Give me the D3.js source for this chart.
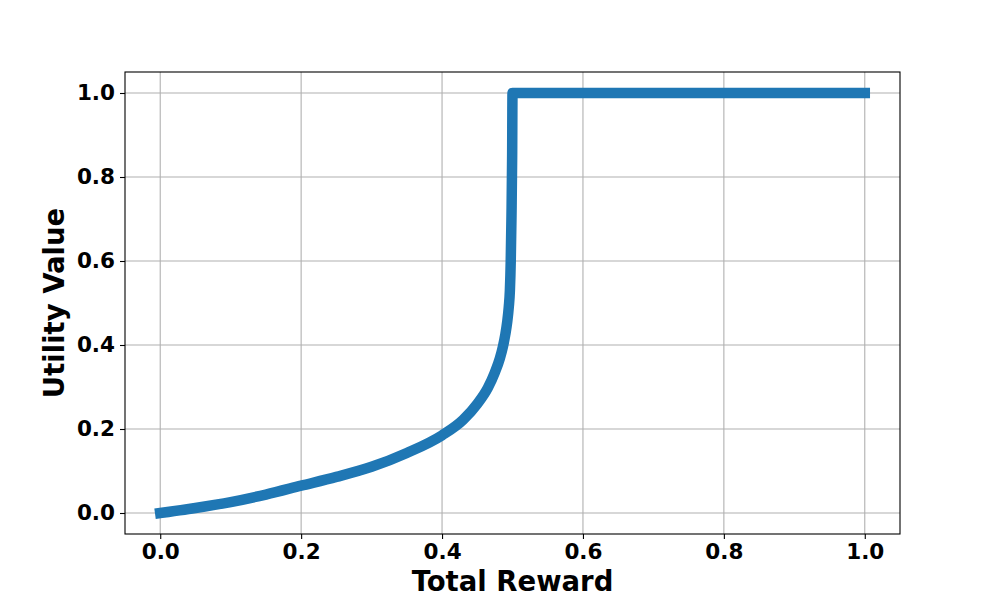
<!DOCTYPE html>
<html>
<head>
<meta charset="utf-8">
<script src="https://cdn.jsdelivr.net/npm/d3@7"></script>
<style>
  body { margin: 0; background: #fff; }
  text { font-family: "DejaVu Sans", sans-serif; font-weight: bold; }
</style>
</head>
<body>
<div id="chart"></div>
<script>
// values
const rewardX = [0, 0.05, 0.1, 0.15, 0.2, 0.25, 0.3, 0.35, 0.4, 0.43, 0.45, 0.465, 0.475, 0.482, 0.4865, 0.4898, 0.4925, 0.4947, 0.4963, 0.4975, 0.4985, 0.4995, 0.5, 1.0];
const utilityY = [0, 0.012, 0.026, 0.044, 0.065, 0.086, 0.11, 0.143, 0.185, 0.222, 0.26, 0.298, 0.335, 0.368, 0.397, 0.425, 0.455, 0.49, 0.53, 0.6, 0.7, 0.85, 1.0, 1.0];
const xTicks = [0, 0.2, 0.4, 0.6, 0.8, 1.0];
const yTicks = [0, 0.2, 0.4, 0.6, 0.8, 1.0];

const dims = { width: 1000, height: 600 };
const margin = { left: 125, right: 100, top: 72, bottom: 66 };
const w = dims.width - margin.left - margin.right;
const h = dims.height - margin.top - margin.bottom;

const svg = d3.select("#chart")
  .append("svg")
  .attr("width", dims.width)
  .attr("height", dims.height);

const graph = svg.append("g")
  .attr("transform", `translate(${margin.left}, ${margin.top})`);

const x = d3.scaleLinear().domain([-0.05, 1.05]).range([0, w]);
const y = d3.scaleLinear().domain([-0.05, 1.05]).range([h, 0]);

// grid
graph.append("g")
  .selectAll("line")
  .data(xTicks)
  .enter()
  .append("line")
  .attr("x1", (d) => x(d)).attr("x2", (d) => x(d))
  .attr("y1", 0).attr("y2", h)
  .attr("stroke", "#b0b0b0")
  .attr("stroke-width", 1.1);

graph.append("g")
  .selectAll("line")
  .data(yTicks)
  .enter()
  .append("line")
  .attr("y1", (d) => y(d)).attr("y2", (d) => y(d))
  .attr("x1", 0).attr("x2", w)
  .attr("stroke", "#b0b0b0")
  .attr("stroke-width", 1.1);

// axes
const xAxis = graph.append("g")
  .attr("transform", `translate(0, ${h})`)
  .call(d3.axisBottom(x).tickValues(xTicks).tickFormat(d3.format(".1f")).tickSize(5).tickPadding(5));
const yAxis = graph.append("g")
  .call(d3.axisLeft(y).tickValues(yTicks).tickFormat(d3.format(".1f")).tickSize(5).tickPadding(5));

[xAxis, yAxis].forEach((a) => {
  a.select(".domain").remove();
  a.selectAll(".tick line").attr("stroke", "#000").attr("stroke-width", 1.1);
  a.selectAll(".tick text")
    .attr("fill", "#000")
    .style("font-size", "21.5px")
    .style("font-family", "'DejaVu Sans', sans-serif")
    .style("font-weight", "bold");
});
xAxis.selectAll(".tick text").attr("dy", "0.72em");

// line
const line = d3.line()
  .x((d) => x(d[0]))
  .y((d) => y(d[1]))
  .curve(d3.curveMonotoneX);

graph.append("path")
  .datum(rewardX.map((v, i) => [v, utilityY[i]]))
  .attr("d", line)
  .attr("fill", "none")
  .attr("stroke", "#1f77b4")
  .attr("stroke-width", 10.5)
  .attr("stroke-linecap", "square")
  .attr("stroke-linejoin", "round");

// frame
graph.append("rect")
  .attr("width", w)
  .attr("height", h)
  .attr("fill", "none")
  .attr("stroke", "#000")
  .attr("stroke-width", 1.1);

// labels
svg.append("text")
  .attr("x", margin.left + w / 2)
  .attr("y", 591)
  .attr("text-anchor", "middle")
  .style("font-size", "27.5px")
  .text("Total Reward");

svg.append("text")
  .attr("transform", `translate(64, ${margin.top + h / 2}) rotate(-90)`)
  .attr("text-anchor", "middle")
  .style("font-size", "27.5px")
  .text("Utility Value");
</script>
</body>
</html>
